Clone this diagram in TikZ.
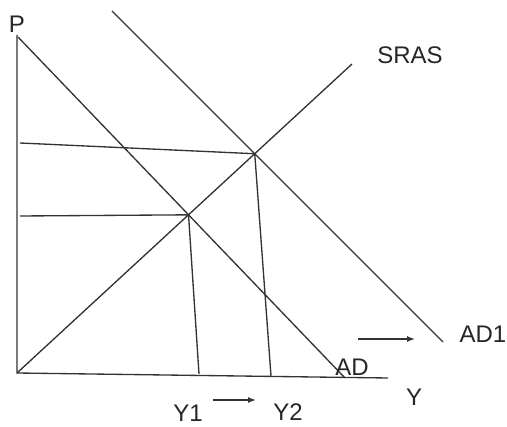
\documentclass[tikz,border=0pt]{standalone}
\usepackage{fontspec}
\setmainfont{Liberation Sans}
\usetikzlibrary{arrows.meta}

\begin{document}
\begin{tikzpicture}[x=0.75pt, y=-0.75pt, >={Latex[length=6pt,width=4.5pt]},
    curve/.style={draw=black!80, line width=1pt},
    lbl/.style={font=\fontsize{18}{21}\selectfont, text=black!85, inner sep=1pt}]
    \useasboundingbox (0,0) rectangle (507,427);
    % axes
    \coordinate (O) at (17,373);
    \coordinate (ptop) at (17,35);
    \coordinate (yend) at (388,378);
    \node[lbl] (p) at (17,24) {P};
    \node[lbl] (y) at (414,397) {Y};
    \draw[curve] (ptop) -- (O) -- (yend);
    % curves
    \coordinate (ad0) at (18,37);
    \coordinate (ad1) at (345,378);
    \coordinate (adb0) at (112,11);
    \coordinate (adb1) at (443,342);
    \coordinate (sras) at (352,64);
    \draw[curve] (ad0) -- (ad1);
    \draw[curve] (adb0) -- (adb1);
    \draw[curve] (O) -- (sras);
    \node[lbl] (sraslbl) at (410,55) {SRAS};
    \node[lbl] (adlbl) at (352,367) {AD};
    \node[lbl] (ad1lbl) at (483,334) {AD1};
    % equilibria
    \coordinate (e1) at (intersection of ad0--ad1 and O--sras);
    \coordinate (e2) at (intersection of adb0--adb1 and O--sras);
    \coordinate (p1) at (20,216);
    \coordinate (p2) at (20,143);
    \coordinate (q1) at (199,374);
    \coordinate (q2) at (271,376);
    \draw[curve] (p1) -- (e1) -- (q1);
    \draw[curve] (p2) -- (e2) -- (q2);
    \node[lbl] (y1) at (188,413) {Y1};
    \node[lbl] (y2) at (288,412) {Y2};
    % shifts
    \coordinate (s0) at (213,400);
    \coordinate (s1) at (256,400);
    \coordinate (t0) at (358,339);
    \coordinate (t1) at (415,339);
    \draw[curve, ->] (s0) -- (s1);
    \draw[curve, ->] (t0) -- (t1);
\end{tikzpicture}
\end{document}
